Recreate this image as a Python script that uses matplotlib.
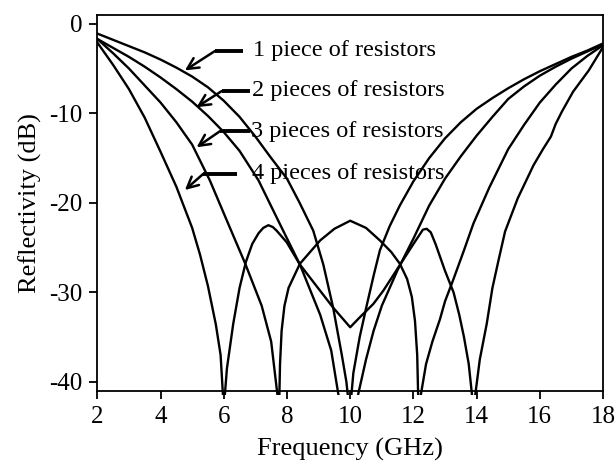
import numpy as np
import matplotlib
matplotlib.use('Agg')
import matplotlib.pyplot as plt
from matplotlib.patches import Rectangle

plt.rcParams['font.family'] = ['Liberation Serif', 'DejaVu Serif']
plt.rcParams['axes.unicode_minus'] = False

# curves (frequency in GHz, reflectivity in dB)
freq_1 = [2.0, 2.5, 3.0, 3.5, 4.0, 4.5, 5.0, 5.5, 6.0, 6.5, 7.0, 7.5, 8.0, 8.4, 8.83, 9.15, 9.46,
          9.73, 9.88, 9.97, 10.0, 10.1, 10.3, 10.52, 10.75, 10.94, 11.25, 11.57, 12.0, 12.5, 13.0,
          13.5, 14.0, 14.5, 15.0, 15.5, 16.0, 16.5, 17.0, 17.5, 18.0]
refl_1 = [-1.1, -1.8, -2.5, -3.2, -4.0, -4.9, -5.9, -7.1, -8.6, -10.4, -12.6, -15.0, -17.3, -20.0,
          -23.1, -26.9, -31.7, -36.9, -40.0, -43.0, -43.0, -39.0, -35.0, -31.5, -28.0, -25.3, -22.6,
          -20.3, -17.6, -15.0, -12.8, -11.0, -9.5, -8.3, -7.2, -6.2, -5.3, -4.5, -3.7, -3.0, -2.2]

freq_2 = [2.0, 2.5, 3.0, 3.5, 4.0, 4.5, 5.0, 5.5, 6.0, 6.5, 7.1, 7.78, 8.41, 9.05, 9.4, 9.7,
          10.15, 10.5, 10.74, 11.0, 11.5, 12.0, 12.5, 13.0, 13.5, 14.0, 14.5, 15.0, 15.5, 16.0,
          16.5, 17.0, 17.5, 18.0]
refl_2 = [-1.7, -2.7, -3.7, -4.8, -6.0, -7.3, -8.7, -10.3, -12.1, -14.2, -17.5, -22.4, -26.9,
          -32.5, -36.5, -43.0, -43.0, -37.5, -34.3, -31.5, -27.5, -24.0, -20.3, -17.3, -14.8,
          -12.5, -10.4, -8.4, -7.0, -5.8, -4.8, -3.9, -3.1, -2.3]

freq_3 = [2.0, 2.5, 3.0, 3.5, 4.0, 4.5, 5.0, 5.56, 6.1, 6.68, 7.2, 7.5, 7.75, 7.78, 7.83, 7.92,
          8.05, 8.41, 9.05, 9.5, 10.0, 10.5, 10.94, 11.3, 11.57, 11.8, 11.95, 12.05, 12.12, 12.16,
          12.4, 12.6, 12.84, 13.0, 13.27, 13.6, 13.9, 14.4, 15.0, 15.5, 16.0, 16.5, 17.0, 17.5, 18.0]
refl_3 = [-1.7, -3.3, -5.0, -6.9, -8.8, -11.0, -13.5, -17.5, -22.0, -26.8, -31.5, -35.5, -43.0,
          -38.0, -34.3, -31.5, -29.5, -26.8, -24.2, -22.9, -22.0, -22.8, -24.2, -25.5, -26.8,
          -28.5, -30.5, -33.2, -37.0, -43.0, -38.0, -35.5, -33.0, -31.0, -28.5, -25.3, -22.3,
          -18.3, -14.0, -11.3, -8.8, -6.8, -5.0, -3.6, -2.4]

freq_4 = [2.0, 2.5, 3.0, 3.5, 4.0, 4.5, 5.0, 5.25, 5.5, 5.75, 5.9, 6.0, 6.1, 6.3, 6.5, 6.7,
          6.9, 7.1, 7.25, 7.41, 7.55, 7.67, 7.99, 8.41, 9.46, 10.0, 10.3, 10.73, 11.05, 11.58,
          12.0, 12.15, 12.3, 12.42, 12.55, 12.7, 12.84, 13.0, 13.27, 13.45, 13.6, 13.75, 13.9,
          14.1, 14.32, 14.5, 14.7, 14.9, 15.3, 15.8, 16.1, 16.35, 16.5, 16.7, 17.05, 17.55, 18.0]
refl_4 = [-2.1, -4.6, -7.3, -10.5, -14.3, -18.2, -22.8, -25.8, -29.3, -33.6, -37.0, -43.0,
          -38.5, -33.5, -29.5, -26.6, -24.6, -23.4, -22.8, -22.5, -22.7, -23.1, -24.4, -26.9,
          -31.7, -33.9, -32.8, -31.3, -29.8, -26.9, -24.6, -23.8, -23.0, -22.9, -23.3, -24.6,
          -26.0, -27.6, -30.0, -32.5, -35.0, -38.0, -43.0, -37.5, -33.5, -29.5, -26.3, -23.2,
          -19.5, -15.8, -14.0, -12.6, -11.2, -9.8, -7.6, -5.2, -2.6]

labels = ['1 piece of resistors', '2 pieces of resistors', '3 pieces of resistors', '4 pieces of resistors']
label_x = [6.93, 6.88, 6.85, 6.90]
label_y = [-3.55, -8.1, -12.7, -17.3]
# arrow: end of horizontal bar, knee, tip
bar_end_x = [6.60, 6.83, 6.83, 6.41]
knee_x = [5.72, 5.93, 5.88, 5.35]
knee_y = [-3.05, -7.53, -12.0, -16.77]
tip_x = [4.77, 5.14, 5.14, 4.77]
tip_y = [-5.21, -9.32, -13.8, -18.57]

fig = plt.figure(figsize=(6.16, 4.62), dpi=100)
ax = fig.add_axes([0.158, 0.154, 0.821, 0.814])

# let the dips poke a few pixels below the bottom axis like in the original
clip = Rectangle((0, -0.011), 1, 1.011, transform=ax.transAxes, visible=False)

for f, r in [(freq_1, refl_1), (freq_2, refl_2), (freq_3, refl_3), (freq_4, refl_4)]:
    ln, = ax.plot(f, r, color='black', lw=1.7, solid_joinstyle='round')
    ln.set_clip_path(clip)

for i in range(len(labels)):
    ax.plot([knee_x[i], bar_end_x[i]], [knee_y[i], knee_y[i]], color='black', lw=2.8,
            solid_capstyle='butt')
    ax.annotate('', xy=(tip_x[i], tip_y[i]), xytext=(knee_x[i], knee_y[i]),
                arrowprops=dict(arrowstyle='->', lw=1.8, color='black', mutation_scale=20,
                                shrinkA=0, shrinkB=0))
    ax.text(label_x[i], label_y[i], labels[i], fontsize=17.5, va='baseline', ha='left')

ax.set_xlim(2, 18)
ax.set_ylim(-41, 1)
ax.set_xticks(range(2, 19, 2))
ax.set_yticks([0, -10, -20, -30, -40])
ax.tick_params(direction='out', length=6, width=1.3, labelsize=18, pad=5)
for s in ax.spines.values():
    s.set_linewidth(1.3)
ax.set_xlabel('Frequency (GHz)', fontsize=19, labelpad=7)
ax.set_ylabel('Reflectivity (dB)', fontsize=19, labelpad=5)

fig.savefig('out.png', dpi=100)
